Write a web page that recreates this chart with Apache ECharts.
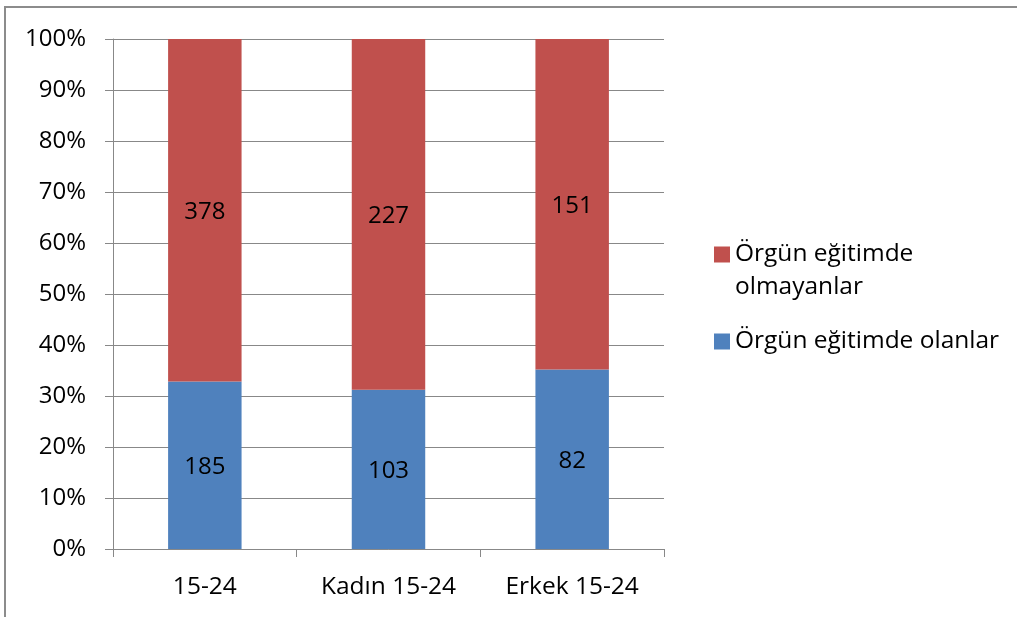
<!DOCTYPE html>
<html>
<head>
<meta charset="utf-8">
<script src="https://cdn.jsdelivr.net/npm/echarts@6/dist/echarts.min.js"></script>
<style>
  html, body { margin: 0; padding: 0; background: #fff; }
  #chart { position: absolute; left: 0; top: 0; width: 1017px; height: 617px; }
  #frame { position: absolute; left: 4px; top: 6px; width: 1100px; height: 700px;
           border-top: 2px solid #8c8c8c; border-left: 2px solid #8c8c8c; pointer-events: none; }
</style>
</head>
<body>
<div id="chart"></div>
<div id="frame"></div>
<script>
// kategoriler ve sayılar
const categories = ["15-24", "Kadın 15-24", "Erkek 15-24"];
const olanlar = [185, 103, 82];        // Örgün eğitimde olanlar
const olmayanlar = [378, 227, 151];    // Örgün eğitimde olmayanlar
const yTicks = [0, 0.1, 0.2, 0.3, 0.4, 0.5, 0.6, 0.7, 0.8, 0.9, 1];

const FONT = "Open Sans";
const GRAY = "#888888";

// yüzde yığılmış sütun: her kategorinin toplamına böl
const totals = olanlar.map((v, i) => v + olmayanlar[i]);
const toShare = (arr) => arr.map((v, i) => ({ value: v / totals[i], count: v }));

const myChart = echarts.init(document.getElementById("chart"));

const labelOpt = {
  show: true,
  position: "inside",
  color: "#000",
  fontFamily: FONT,
  fontSize: 24,
  offset: [0, 2],
  formatter: (p) => p.data.count
};

const options = {
  animation: false,
  textStyle: { fontFamily: FONT },
  grid: { left: 113, right: 353, top: 39, bottom: 68 },
  xAxis: {
    type: "category",
    data: categories,
    axisLine: { lineStyle: { color: GRAY, width: 1 } },
    axisTick: { show: true, length: 8, lineStyle: { color: GRAY } },
    axisLabel: { color: "#000", fontFamily: FONT, fontSize: 24.5, margin: 26 }
  },
  yAxis: {
    type: "value",
    min: 0,
    max: 1,
    interval: 0.1,
    axisLine: { show: true, lineStyle: { color: GRAY, width: 1 } },
    axisTick: { show: true, length: 8, lineStyle: { color: GRAY } },
    splitLine: { lineStyle: { color: GRAY, width: 1 } },
    axisLabel: {
      color: "#000", fontFamily: FONT, fontSize: 24, margin: 27,
      formatter: (v) => {
        const t = yTicks.find((x) => Math.abs(x - v) < 1e-6);
        return Math.round((t !== undefined ? t : v) * 100) + "%";
      }
    }
  },
  legend: [
    {
      left: 709,
      top: 200,
      orient: "vertical",
      icon: "rect",
      itemWidth: 16,
      itemHeight: 16,
      data: ["Örgün eğitimde olmayanlar"],
      // boş ilk satır: kare ilk satırla hizalansın
      formatter: () => "\nÖrgün eğitimde\nolmayanlar",
      textStyle: { color: "#000", fontFamily: FONT, fontSize: 24.5, lineHeight: 33 }
    },
    {
      left: 709,
      top: 320,
      orient: "vertical",
      icon: "rect",
      itemWidth: 16,
      itemHeight: 16,
      data: ["Örgün eğitimde olanlar"],
      textStyle: { color: "#000", fontFamily: FONT, fontSize: 24.5, lineHeight: 33 }
    }
  ],
  series: [
    {
      name: "Örgün eğitimde olanlar",
      type: "bar",
      stack: "toplam",
      barWidth: "40%",
      data: toShare(olanlar),
      itemStyle: { color: "#4F81BD" },
      label: labelOpt
    },
    {
      name: "Örgün eğitimde olmayanlar",
      type: "bar",
      stack: "toplam",
      barWidth: "40%",
      data: toShare(olmayanlar),
      itemStyle: { color: "#C0504D" },
      label: labelOpt
    }
  ]
};

myChart.setOption(options);
</script>
</body>
</html>
